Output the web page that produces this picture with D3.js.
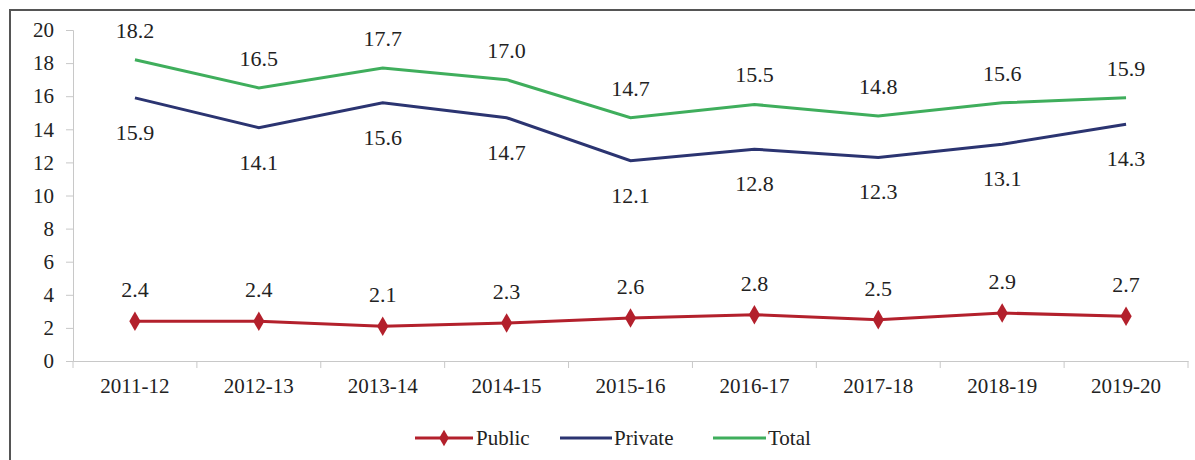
<!DOCTYPE html>
<html><head><meta charset="utf-8">
<script src="https://cdn.jsdelivr.net/npm/d3@7"></script>
<style>
body{margin:0;background:#fff}
svg{display:block}
svg text, svg .tick text{font-family:"Liberation Serif",Tinos,"Times New Roman",Times,"DejaVu Serif",serif !important}
</style>
</head><body><svg width="1195" height="460"></svg>
<script>
const categories = ["2011-12","2012-13","2013-14","2014-15","2015-16","2016-17","2017-18","2018-19","2019-20"];
const publicVals = [2.4,2.4,2.1,2.3,2.6,2.8,2.5,2.9,2.7];
const privateVals = [15.9,14.1,15.6,14.7,12.1,12.8,12.3,13.1,14.3];
const totalVals = [18.2,16.5,17.7,17.0,14.7,15.5,14.8,15.6,15.9];
const yTicks = [0,2,4,6,8,10,12,14,16,18,20];
const seriesNames = ["Public","Private","Total"];

const svg = d3.select("svg");
// frame
svg.append("path").attr("d","M10,460 L10,10 L1195,10").attr("fill","none").attr("stroke","#555").attr("stroke-width",2);

const x = d3.scaleBand().domain(categories).range([73,1188]);
const y = d3.scaleLinear().domain([0,20]).range([361,30]);

// y axis
const ya = svg.append("g").attr("transform","translate(73,0)").call(d3.axisLeft(y).tickValues(yTicks).tickSize(7).tickPadding(12));
ya.attr("font-family",null).attr("font-size",null);
ya.select(".domain").attr("stroke","#c8c8c8");
ya.selectAll(".tick line").attr("stroke","#c8c8c8");
ya.selectAll(".tick text").attr("fill","#222").style("font-size","21px");

// x axis
const xa = svg.append("g").attr("transform","translate(0,361)").call(d3.axisBottom(x).tickSize(0).tickPadding(17));
xa.attr("font-family",null).attr("font-size",null);
xa.select(".domain").attr("stroke","#c8c8c8");
xa.selectAll(".tick text").attr("fill","#222").style("font-size","21px");
// boundary tick marks
const edges = categories.map(c=>x(c)).concat([x.range()[1]]);
svg.append("g").selectAll("line").data(edges).join("line")
  .attr("x1",d=>d).attr("x2",d=>d).attr("y1",361).attr("y2",368).attr("stroke","#c8c8c8");

const cx = c => x(c) + x.bandwidth()/2;
const line = d3.line().x((d,i)=>cx(categories[i])).y(d=>y(d));

const series = [
  {name:"Total", vals:totalVals, color:"#3fae5c", off:-29},
  {name:"Private", vals:privateVals, color:"#2b3471", off:35},
  {name:"Public", vals:publicVals, color:"#b3202c", off:-31, marker:true}
];
series.forEach(s=>{
  svg.append("path").datum(s.vals).attr("d",line).attr("fill","none").attr("stroke",s.color).attr("stroke-width",3);
  if(s.marker){
    svg.append("g").selectAll("path").data(s.vals).join("path")
      .attr("d",d3.symbol(d3.symbolDiamond,110))
      .attr("transform",(d,i)=>`translate(${cx(categories[i])},${y(d)})`)
      .attr("fill",s.color);
  }
  svg.append("g").selectAll("text").data(s.vals).join("text")
    .attr("x",(d,i)=>cx(categories[i])).attr("y",d=>y(d)+s.off+7)
    .attr("text-anchor","middle")
    .attr("fill","#222").style("font-size","22px").text(d=>d.toFixed(1));
});

// legend
const leg = [
  {name:"Public", color:"#b3202c", x1:415, x2:473, tx:476, marker:true},
  {name:"Private", color:"#2b3471", x1:560, x2:612, tx:614},
  {name:"Total", color:"#3fae5c", x1:713, x2:766, tx:768}
];
leg.forEach(l=>{
  svg.append("line").attr("x1",l.x1).attr("x2",l.x2).attr("y1",438).attr("y2",438).attr("stroke",l.color).attr("stroke-width",3);
  if(l.marker) svg.append("path").attr("d",d3.symbol(d3.symbolDiamond,80)).attr("transform",`translate(${(l.x1+l.x2)/2},438)`).attr("fill",l.color);
  svg.append("text").attr("x",l.tx).attr("y",445).attr("fill","#222")
    .style("font-size","21px").text(l.name);
});
</script></body></html>
